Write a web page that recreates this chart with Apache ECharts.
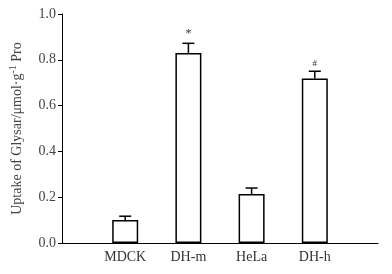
<!DOCTYPE html>
<html>
<head>
<meta charset="utf-8">
<script src="https://cdn.jsdelivr.net/npm/echarts@6/dist/echarts.min.js"></script>
<style>
  html, body { margin: 0; padding: 0; background: #fff; }
  #chart { width: 392px; height: 274px; }
</style>
</head>
<body>
<div id="chart"></div>
<script>
// padded with empty slots so bars sit at 1..4 on a 0..5 span
const categories = ['', 'MDCK', 'DH-m', 'HeLa', 'DH-h', ''];
const uptake = [null, 0.10, 0.83, 0.214, 0.718, null];
const errTop = [null, 0.117, 0.872, 0.24, 0.75, null];
const marks = ['', '', '*', '', '#', ''];
const yTicks = [0, 0.2, 0.4, 0.6, 0.8, 1.0];

const font = '"Liberation Serif", serif';
const myChart = echarts.init(document.getElementById('chart'));

const errData = [];
for (let i = 0; i < categories.length; i++) {
    if (uptake[i] == null) continue;
    errData.push([i, uptake[i], errTop[i], marks[i]]);
}

const option = {
    animation: false,
    grid: { left: 52, right: 14, top: 14, bottom: 31 },
    xAxis: {
        type: 'category',
        data: categories,
        boundaryGap: false,
        axisLine: { lineStyle: { color: '#000', width: 1 } },
        axisTick: { show: false },
        axisLabel: { color: '#333', fontFamily: font, fontSize: 14, margin: 7 }
    },
    yAxis: {
        type: 'value',
        min: yTicks[0],
        max: yTicks[yTicks.length - 1],
        interval: 0.2,
        splitLine: { show: false },
        axisLine: { show: true, lineStyle: { color: '#000', width: 1 } },
        axisTick: { show: true, inside: false, length: 4, lineStyle: { color: '#000' } },
        axisLabel: {
            color: '#444', fontFamily: font, fontSize: 14, margin: 6,
            formatter: v => v.toFixed(1)
        },
        name: 'Uptake of Glysar/μmol·g{sup|-1} Pro',
        nameLocation: 'middle',
        nameGap: 36,
        nameRotate: 90,
        nameTextStyle: {
            color: '#444', fontFamily: font, fontSize: 14,
            rich: {
                sup: { fontFamily: font, fontSize: 10, color: '#444', verticalAlign: 'top', padding: [0, 0, 8, 0] }
            }
        }
    },
    series: [
        {
            type: 'bar',
            data: uptake,
            barWidth: 26,
            itemStyle: { color: '#fff', borderColor: '#000', borderWidth: 1.5 }
        },
        {
            type: 'custom',
            data: errData,
            z: 5,
            renderItem: (params, api) => {
                const x = api.value(0);
                const base = api.coord([x, api.value(1)]);
                const top = api.coord([x, api.value(2)]);
                const children = [
                    { type: 'line', shape: { x1: base[0], y1: base[1], x2: top[0], y2: top[1] }, style: { stroke: '#000', lineWidth: 1.5 } },
                    { type: 'line', shape: { x1: top[0] - 6, y1: top[1], x2: top[0] + 6, y2: top[1] }, style: { stroke: '#000', lineWidth: 1.5 } }
                ];
                const mark = api.value(3);
                if (mark) {
                    children.push({
                        type: 'text',
                        style: {
                            text: mark, x: top[0], y: top[1] - 3,
                            align: 'center', verticalAlign: 'bottom',
                            fill: '#333', font: (mark === '#' ? 9 : 12) + 'px ' + font
                        }
                    });
                }
                return { type: 'group', children };
            }
        }
    ]
};
myChart.setOption(option);
window.addEventListener('resize', function () {
    myChart.resize();
});
</script>
</body>
</html>
